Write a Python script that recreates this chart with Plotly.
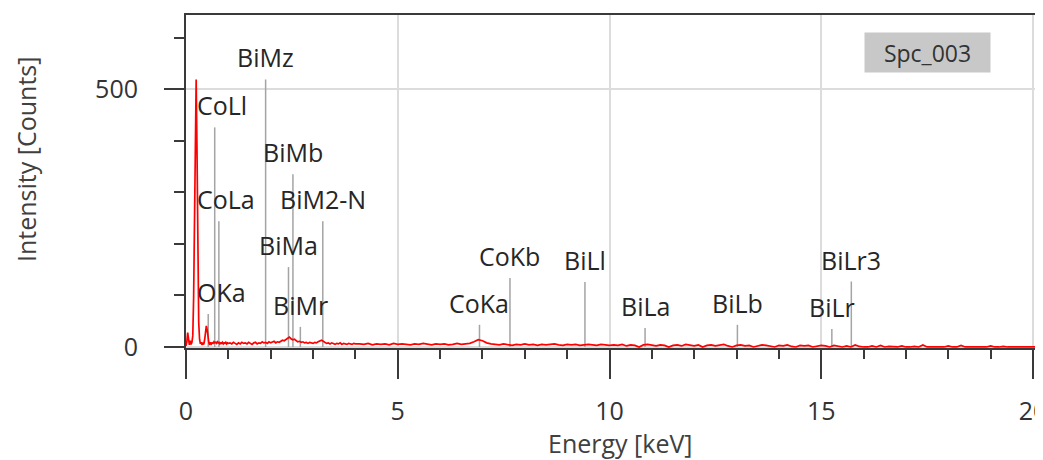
import plotly.graph_objects as go

# ---------------- data ----------------
# spectrum, low-energy part: 0.00 .. 1.00 keV, step 0.02 keV
LOW_START, LOW_STEP = 0.0, 0.02
counts_low = [
    2, 10, 28, 9, 4, 12, 5, 9, 22, 95,
    290, 470, 519, 380, 160, 48, 15, 6, 9, 4,
    7, 5, 14, 30, 41, 33, 18, 8, 4, 9,
    6, 8, 7, 10, 8, 9, 7, 10, 8, 9,
    6, 8, 7, 9, 6, 8, 7, 9, 6, 8,
    7,
]
# spectrum, middle part: 1.04 .. 4.00 keV, step 0.04 keV
MID_START, MID_STEP = 1.04, 0.04
counts_mid = [
    8, 6, 9, 7, 5, 8, 6, 9, 7, 8,
    6, 9, 7, 5, 8, 9, 6, 8, 7, 10,
    8, 9, 7, 10, 8, 9, 11, 8, 10, 9,
    11, 13, 12, 15, 17, 19, 16, 14, 15, 12,
    10, 11, 9, 10, 8, 9, 7, 9, 8, 7,
    9, 8, 10, 12, 13, 11, 9, 7, 8, 6,
    8, 7, 5, 7, 6, 8, 5, 7, 6, 5,
    7, 6, 5, 7, 6,
]
# spectrum, high part: 4.1 .. 20.2 keV, step 0.1 keV
HIGH_START, HIGH_STEP = 4.1, 0.1
counts_high = [
    6, 5, 7, 4, 6, 5, 6, 4, 7, 5,
    6, 5, 4, 6, 5, 7, 5, 4, 6, 5,
    6, 4, 5, 7, 5, 6, 7, 10, 14, 12,
    8, 6, 5, 4, 6, 5, 3, 5, 4, 6,
    4, 5, 3, 5, 4, 5, 6, 4, 3, 5,
    4, 5, 3, 4, 5, 4, 3, 5, 4, 3,
    4, 3, 5, 2, 4, 3, 0, 4, 5, 3,
    2, 4, 3, 0, 3, 4, 2, 5, 3, 2,
    4, 0, 3, 4, 2, 3, 5, 2, 0, 3,
    4, 2, 3, 0, 2, 4, 3, 2, 0, 3,
    2, 4, 1, 0, 3, 2, 3, 0, 2, 3,
    2, 0, 3, 1, 0, 2, 0, 4, 1, 0,
    0, 2, 0, 3, 0, 1, 0, 0, 2, 0,
    0, 1, 0, 4, 0, 0, 1, 0, 0, 2,
    0, 0, 3, 0, 0, 1, 0, 0, 0, 2,
    0, 0, 1, 0, 0, 0, 1, 0, 0, 0,
    0, 0,
]

# element marker lines
line_labels = ["OKa", "CoLl", "CoLa", "BiMz", "BiMa", "BiMb", "BiMr", "BiM2-N",
               "CoKa", "CoKb", "BiLl", "BiLa", "BiLb", "BiLr", "BiLr3"]
line_energies = [0.525, 0.678, 0.776, 1.88, 2.42, 2.525, 2.70, 3.23,
                 6.93, 7.65, 9.42, 10.84, 13.02, 15.25, 15.71]
line_heights = [64, 426, 244, 519, 155, 335, 39, 244,
                43, 134, 126, 37, 43, 35, 127]

spectrum_name = "Spc_003"
x_ticks = [0, 5, 10, 15, 20]
y_ticks = [0, 500]

# ---------------- build ----------------
def seg(start, step, vals):
    return [round(start + step * i, 4) for i in range(len(vals))]

energy = (seg(LOW_START, LOW_STEP, counts_low)
          + seg(MID_START, MID_STEP, counts_mid)
          + seg(HIGH_START, HIGH_STEP, counts_high))
counts = counts_low + counts_mid + counts_high

FONT = "Open Sans"
FS = 25
AXC = "#3a3a3a"
GRID = "#dcdcdc"

# page layout (the html body has an 8px default margin)
OFF = 8
W, H = 1043, 460
PAGE_L, PAGE_T, PAGE_B = 186, 15, 348      # plot area on the page
PX_PER_KEV = 42.35
L = PAGE_L - OFF
T = PAGE_T - OFF
B = H - (PAGE_B - OFF)
R = 0
PW, PH = W - L - R, H - T - B
XMAX = PW / PX_PER_KEV


def px(xpage):
    return (xpage - OFF - L) / PW


def py(ypage):
    return (H - B - (ypage - OFF)) / PH


fig = go.Figure()

mx, my = [], []
for e, h in zip(line_energies, line_heights):
    mx += [e, e, None]
    my += [0, h, None]
fig.add_trace(go.Scatter(x=mx, y=my, mode="lines",
                         line=dict(color="#a4a4a4", width=1.5),
                         hoverinfo="skip", showlegend=False))

fig.add_trace(go.Scatter(x=energy, y=counts, mode="lines",
                         line=dict(color="#ff0000", width=1.7),
                         showlegend=False))

LEFT_CLAMP = {"OKa", "CoLl", "CoLa"}
for lab, e, h in zip(line_labels, line_energies, line_heights):
    if lab in LEFT_CLAMP:
        ax, anc = 0.21, "left"
    else:
        ax, anc = e, "center"
    fig.add_annotation(x=ax, y=h, xref="x", yref="y", text=lab,
                       showarrow=False, xanchor=anc, yanchor="bottom", yshift=3,
                       font=dict(family=FONT, size=FS, color="#262626"))

fig.add_annotation(x=px(26), y=py(160), xref="paper", yref="paper",
                   text="Intensity [Counts]", textangle=-90, showarrow=False,
                   xanchor="center", yanchor="middle",
                   font=dict(family=FONT, size=FS, color="#404040"))
fig.add_annotation(x=px(620), y=py(443), xref="paper", yref="paper",
                   text="Energy [keV]", showarrow=False,
                   xanchor="center", yanchor="middle",
                   font=dict(family=FONT, size=FS, color="#404040"))
fig.add_annotation(x=px(927), y=py(52), xref="paper", yref="paper",
                   text=spectrum_name, showarrow=False,
                   xanchor="center", yanchor="middle",
                   bgcolor="#c8c8c8", width=121, height=35, borderpad=2,
                   font=dict(family=FONT, size=23, color="#333333"))

fig.update_layout(
    width=W, height=H,
    margin=dict(l=L, r=R, t=T, b=B, pad=0, autoexpand=False),
    paper_bgcolor="white", plot_bgcolor="white",
    showlegend=False,
    font=dict(family=FONT, size=FS, color="#333333"),
)
fig.update_xaxes(
    range=[0, XMAX], tickmode="array", tickvals=x_ticks,
    ticktext=[str(v) for v in x_ticks], automargin=False,
    ticks="outside", ticklen=29, tickwidth=2, tickcolor=AXC,
    showline=True, linecolor=AXC, linewidth=2, mirror=True,
    showgrid=True, gridcolor=GRID, gridwidth=1.5, zeroline=False,
    tickfont=dict(family=FONT, size=FS, color="#333333"),
    ticklabelstandoff=11,
    minor=dict(dtick=1, tick0=0, ticks="outside", ticklen=9, tickwidth=1.5,
               tickcolor=AXC, showgrid=False),
)
fig.update_yaxes(
    range=[-2, 644], tickmode="array", tickvals=y_ticks,
    ticktext=[str(v) for v in y_ticks], automargin=False,
    ticks="outside", ticklen=20, tickwidth=2, tickcolor=AXC,
    showline=True, linecolor=AXC, linewidth=2, mirror=False,
    showgrid=True, gridcolor=GRID, gridwidth=1.5, zeroline=False,
    tickfont=dict(family=FONT, size=FS, color="#333333"),
    ticklabelstandoff=21,
    minor=dict(dtick=100, tick0=0, ticks="outside", ticklen=10, tickwidth=1.5,
               tickcolor=AXC, showgrid=False),
)

fig.write_html("out.html")
